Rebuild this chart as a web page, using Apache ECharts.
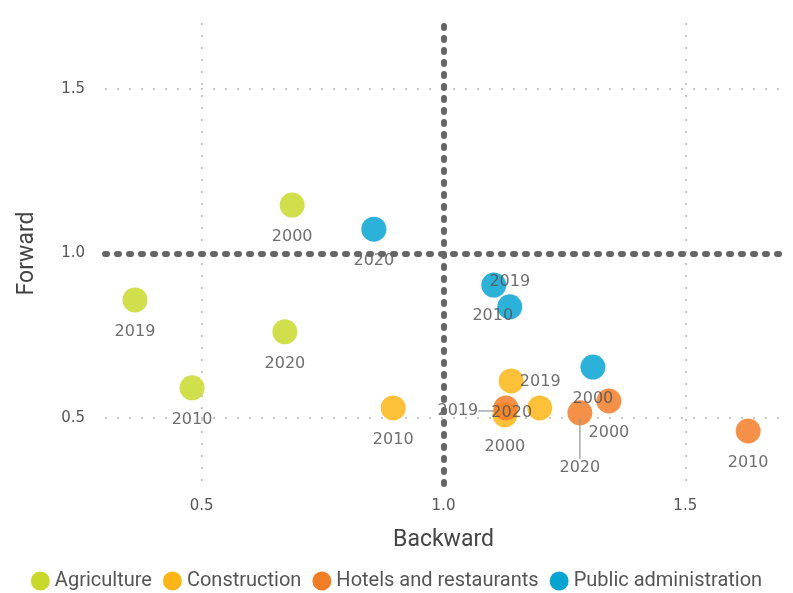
<!DOCTYPE html>
<html>
<head>
<meta charset="utf-8">
<script src="https://cdn.jsdelivr.net/npm/echarts@6/dist/echarts.min.js"></script>
<style>html,body{margin:0;padding:0;background:#fff;}#c{width:793px;height:593px;}</style>
</head>
<body>
<div id="c"></div>
<script>
const years = ['2000', '2010', '2019', '2020'];
const sectors = ['Agriculture', 'Construction', 'Hotels and restaurants', 'Public administration'];
const agricultureBackward = [0.687, 0.480, 0.362, 0.672];
const agricultureForward  = [1.147, 0.592, 0.859, 0.762];
const constructionBackward = [1.127, 0.896, 1.140, 1.199];
const constructionForward  = [0.510, 0.531, 0.613, 0.531];
const hotelsBackward = [1.342, 1.630, 1.129, 1.282];
const hotelsForward  = [0.552, 0.461, 0.531, 0.516];
const publicBackward = [1.309, 1.137, 1.104, 0.856];
const publicForward  = [0.655, 0.838, 0.904, 1.074];
const tickValues = [0.5, 1.0, 1.5];
const referenceValue = 1.0;

const colors = ['#c8d92b', '#fdb516', '#f27d27', '#07a4d2'];
const backward = [agricultureBackward, constructionBackward, hotelsBackward, publicBackward];
const forward = [agricultureForward, constructionForward, hotelsForward, publicForward];

// label placement tweaks (style only)
const labelTweaks = {
  'Public administration|2019': {offset: [16, -3]},
  'Public administration|2010': {offset: [-17, 9]},
  'Construction|2019': {offset: [29, 1]},
  'Construction|2020': {offset: [-28, 5]},
  'Hotels and restaurants|2019': {offset: [-40, 3], leader: 'h'},
  'Hotels and restaurants|2020': {offset: [0, 35], leader: 'v'}
};

const labelFont = {fontFamily: 'DejaVu Sans', fontSize: 16, color: '#555'};
const leaderRich = {
  hl: {width: 16, height: 1.5, backgroundColor: '#999'},
  vl: {width: 1.5, height: 40, backgroundColor: '#999'},
  t: {fontFamily: 'DejaVu Sans', fontSize: 16, color: '#555', lineHeight: 18}
};

const series = sectors.map((name, si) => ({
  name: name,
  type: 'scatter',
  symbolSize: 25,
  itemStyle: {color: colors[si], opacity: 0.85},
  label: Object.assign({show: true, position: 'bottom', distance: 11, formatter: p => p.data.year}, labelFont),
  emphasis: {disabled: true},
  data: years.map((y, i) => {
    const item = {value: [backward[si][i], forward[si][i]], year: y};
    const t = labelTweaks[name + '|' + y];
    if (t) {
      item.label = {position: 'inside', offset: t.offset};
      if (t.leader === 'h') {
        item.label.formatter = '{t|' + y + '}{hl|}';
        item.label.rich = leaderRich;
      } else if (t.leader === 'v') {
        item.label.formatter = '{vl|}\n{t|' + y + '}';
        item.label.rich = leaderRich;
      }
    }
    return item;
  })
}));

series.unshift({
  name: 'ref',
  type: 'scatter',
  data: [],
  silent: true,
  markLine: {
    silent: true,
    symbol: 'none',
    label: {show: false},
    lineStyle: {color: '#666', width: 6, type: [2, 10], cap: 'round'},
    emphasis: {disabled: true},
    data: [{xAxis: referenceValue}, {yAxis: referenceValue}]
  }
});

const axisCommon = {
  type: 'value',
  min: 0.3,
  max: 1.7,
  nameLocation: 'middle',
  nameMoveOverlap: false,
  nameTextStyle: {fontFamily: 'Roboto', fontSize: 23, color: '#444'},
  axisLine: {show: false},
  axisTick: {show: false, customValues: tickValues},
  axisLabel: {customValues: tickValues, formatter: v => v.toFixed(1), fontFamily: 'DejaVu Sans', fontSize: 15, color: '#555'},
  splitLine: {show: true, lineStyle: {color: '#c8c8c8', width: 2, type: [2, 10]}}
};

const chart = echarts.init(document.getElementById('c'));
chart.setOption({
  animation: false,
  grid: {left: 105, right: 11, top: 23, bottom: 109, outerBoundsMode: 'none', containLabel: false},
  xAxis: Object.assign({}, axisCommon, {name: 'Backward', nameGap: 45, axisLabel: Object.assign({}, axisCommon.axisLabel, {margin: 15})}),
  yAxis: Object.assign({}, axisCommon, {name: 'Forward', nameGap: 66, axisLabel: Object.assign({}, axisCommon.axisLabel, {margin: 20})}),
  legend: {
    data: sectors,
    top: 566,
    icon: 'circle',
    itemWidth: 19,
    itemHeight: 19,
    itemGap: 11,
    itemStyle: {opacity: 1},
    textStyle: {fontFamily: 'Roboto', fontSize: 20, color: '#555'}
  },
  series: series
});
</script>
</body>
</html>
